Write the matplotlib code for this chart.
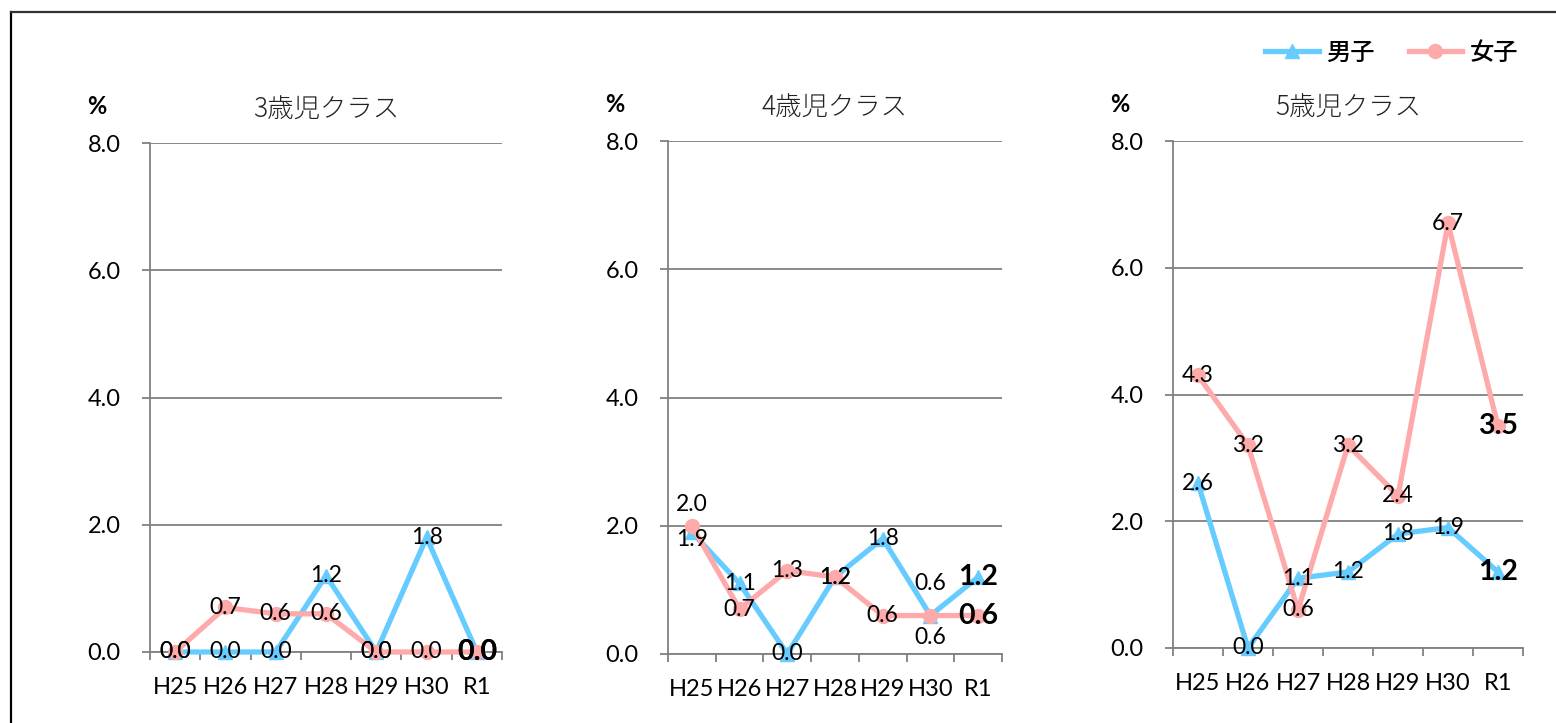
import matplotlib
matplotlib.use("Agg")
import matplotlib.pyplot as plt
from matplotlib.lines import Line2D

plt.rcParams['font.family'] = ['Lato', 'Noto Sans CJK JP', 'DejaVu Sans']

years = ["H25", "H26", "H27", "H28", "H29", "H30", "R1"]
titles = ["3歳児クラス", "4歳児クラス", "5歳児クラス"]

boys_3 = [0.0, 0.0, 0.0, 1.2, 0.0, 1.8, 0.0]
girls_3 = [0.0, 0.7, 0.6, 0.6, 0.0, 0.0, 0.0]
boys_4 = [1.9, 1.1, 0.0, 1.2, 1.8, 0.6, 1.2]
girls_4 = [2.0, 0.7, 1.3, 1.2, 0.6, 0.6, 0.6]
boys_5 = [2.6, 0.0, 1.1, 1.2, 1.8, 1.9, 1.2]
girls_5 = [4.3, 3.2, 0.6, 3.2, 2.4, 6.7, 3.5]

boys = [boys_3, boys_4, boys_5]
girls = [girls_3, girls_4, girls_5]

BLUE = '#66CCFF'
PINK = '#FFAAAA'
GRID = '#808080'

# label offsets (points) where a label is moved off its point: (panel, series, index) -> (dx, dy)
label_shift = {
    (1, 'g', 0): (0, 15),
    (1, 'b', 0): (0, -5),
    (1, 'b', 5): (0, 23),
    (1, 'g', 5): (0, -16),
}

W, H = 1556, 723
fig = plt.figure(figsize=(W / 100, H / 100), dpi=100)

# axes boxes in pixels: left, right, top, bottom
boxes = [(150, 502, 143, 652), (668, 1002, 141, 654), (1173, 1523, 141, 648)]

for p, (l, r, t, b) in enumerate(boxes):
    ax = fig.add_axes([l / W, 1 - b / H, (r - l) / W, (b - t) / H])
    x = list(range(len(years)))
    ax.plot(x, boys[p], color=BLUE, lw=3.8, marker='^', ms=10, mec=BLUE, mfc=BLUE,
            solid_joinstyle='miter', zorder=3, clip_on=False)
    ax.plot(x, girls[p], color=PINK, lw=3.8, marker='o', ms=10, mec=PINK, mfc=PINK,
            zorder=3, clip_on=False)

    for key, series in (('b', boys[p]), ('g', girls[p])):
        for i, v in enumerate(series):
            dx, dy = label_shift.get((p, key, i), (0, 0))
            last = i == len(series) - 1
            ax.annotate(f'{v:.1f}', (i, v), xytext=(dx, dy), textcoords='offset points',
                        ha='center', va='center', fontsize=20.5 if last else 16.5,
                        fontweight='bold' if last else 'normal', color='black',
                        zorder=5, annotation_clip=False)

    ax.set_xlim(-0.5, len(years) - 0.5)
    ax.set_ylim(0, 8)
    ax.set_yticks([0, 2, 4, 6, 8])
    ax.set_yticklabels([f'{v:.1f}' for v in [0, 2, 4, 6, 8]], fontsize=17)
    ax.yaxis.grid(True, color=GRID, lw=1.3)
    ax.set_axisbelow(True)
    ax.tick_params(axis='y', length=6, width=1.3, color=GRID, pad=15)

    ax.set_xticks(x)
    ax.set_xticklabels(years, fontsize=17)
    ax.set_xticks([i - 0.5 for i in range(len(years) + 1)], minor=True)
    ax.tick_params(axis='x', which='major', length=0, pad=18)
    ax.tick_params(axis='x', which='minor', length=6, width=1.3, color=GRID)

    for s in ('top', 'right'):
        ax.spines[s].set_visible(False)
    for s in ('left', 'bottom'):
        ax.spines[s].set_color(GRID)
        ax.spines[s].set_linewidth(1.3)

    ax.annotate(titles[p], (0.5, 1), xycoords='axes fraction', xytext=(0, 24),
                textcoords='offset points', ha='center', va='center',
                fontsize=19, fontweight='light', family='Noto Sans CJK JP', color='#222222')
    ax.annotate('%', (0, 1), xycoords='axes fraction', xytext=(-38, 26),
                textcoords='offset points', ha='center', va='center',
                fontsize=17, fontweight='bold')

handles = [Line2D([], [], color=BLUE, lw=3.8, marker='^', ms=10),
           Line2D([], [], color=PINK, lw=3.8, marker='o', ms=10)]
fig.legend(handles, ['男子', '女子'], loc='center right',
           bbox_to_anchor=(1518 / W, 1 - 53 / H), ncol=2, frameon=False,
           prop={'family': 'Noto Sans CJK JP', 'size': 17.5, 'weight': 'medium'},
           handlelength=2.2, handletextpad=0.3, columnspacing=1.4,
           borderpad=0, borderaxespad=0)

# outer frame (top and left edges)
fig.add_artist(Line2D([11 / W, 11 / W], [0, 1 - 12 / H], color='black', lw=1.6))
fig.add_artist(Line2D([11 / W, 1], [1 - 12 / H, 1 - 12 / H], color='#333333', lw=1.6))

fig.savefig('out.png', dpi=100)
